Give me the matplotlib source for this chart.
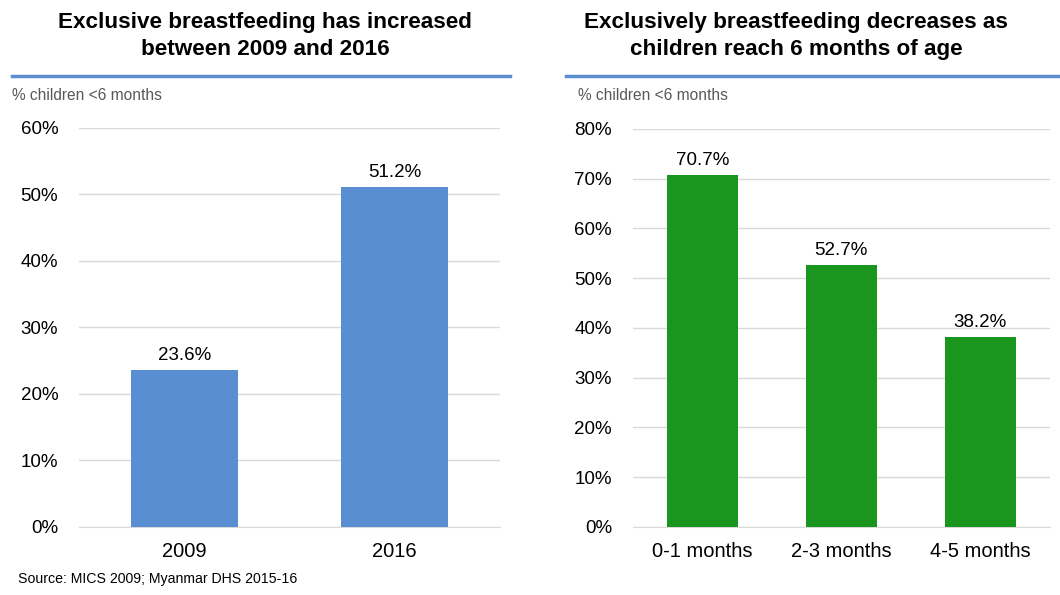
import matplotlib.pyplot as plt
from matplotlib.lines import Line2D

plt.rcParams['font.family'] = ['Liberation Sans', 'DejaVu Sans']

# exclusive breastfeeding, % of children under 6 months
years = ['2009', '2016']
ebf_by_year = [23.6, 51.2]

age_groups = ['0-1 months', '2-3 months', '4-5 months']
ebf_by_age = [70.7, 52.7, 38.2]

blue = '#5A8ED2'
green = '#1A961F'
rule_blue = '#5B8ED0'
grid_grey = '#D9D9D9'


def bar_panel(ax, cats, vals, color, ymax):
    x = range(len(cats))
    ax.bar(x, vals, width=0.51, color=color, zorder=3)
    for xi, v in zip(x, vals):
        ax.text(xi, v + ymax * 0.015, f'{v:.1f}%', ha='center', va='bottom', fontsize=13.5)
    ax.set_xlim(-0.5, len(cats) - 0.5)
    ax.set_ylim(0, ymax)
    ax.set_yticks(range(0, ymax + 1, 10))
    ax.set_yticklabels([f'{t}%' for t in range(0, ymax + 1, 10)], fontsize=13.5)
    ax.set_xticks(list(x))
    ax.set_xticklabels(cats, fontsize=14.5)
    ax.grid(axis='y', color=grid_grey, linewidth=1, zorder=0)
    for s in ['top', 'right', 'left']:
        ax.spines[s].set_visible(False)
    ax.spines['bottom'].set_color(grid_grey)
    ax.tick_params(length=0)
    ax.tick_params(axis='y', pad=15)
    ax.tick_params(axis='x', pad=11)


fig = plt.figure(figsize=(10.6, 5.95), dpi=100)

ax1 = fig.add_axes([0.0745, 0.1143, 0.397, 0.6706])
bar_panel(ax1, years, ebf_by_year, blue, 60)

ax2 = fig.add_axes([0.597, 0.1143, 0.3934, 0.669])
bar_panel(ax2, age_groups, ebf_by_age, green, 80)

# titles and rules above each panel
fig.text(265 / 1060, 1 - 36 / 595, 'Exclusive breastfeeding has increased\nbetween 2009 and 2016',
         ha='center', va='center', fontsize=16.2, fontweight='bold', linespacing=1.33)
fig.text(796 / 1060, 1 - 36 / 595, 'Exclusively breastfeeding decreases as\nchildren reach 6 months of age',
         ha='center', va='center', fontsize=16.2, fontweight='bold', linespacing=1.33)

fig.add_artist(Line2D([12 / 1060, 510 / 1060], [1 - 76 / 595] * 2, color=rule_blue, linewidth=2.5))
fig.add_artist(Line2D([566 / 1060, 1.0], [1 - 76 / 595] * 2, color=rule_blue, linewidth=2.5))

fig.text(12 / 1060, 1 - 96 / 595, '% children <6 months', ha='left', va='center',
         fontsize=11.2, color='#595959')
fig.text(578 / 1060, 1 - 96 / 595, '% children <6 months', ha='left', va='center',
         fontsize=11.2, color='#595959')

fig.text(18 / 1060, 1 - 579 / 595, 'Source: MICS 2009; Myanmar DHS 2015-16', ha='left', va='center',
         fontsize=10.2)

fig.savefig('out.png', dpi=100)
